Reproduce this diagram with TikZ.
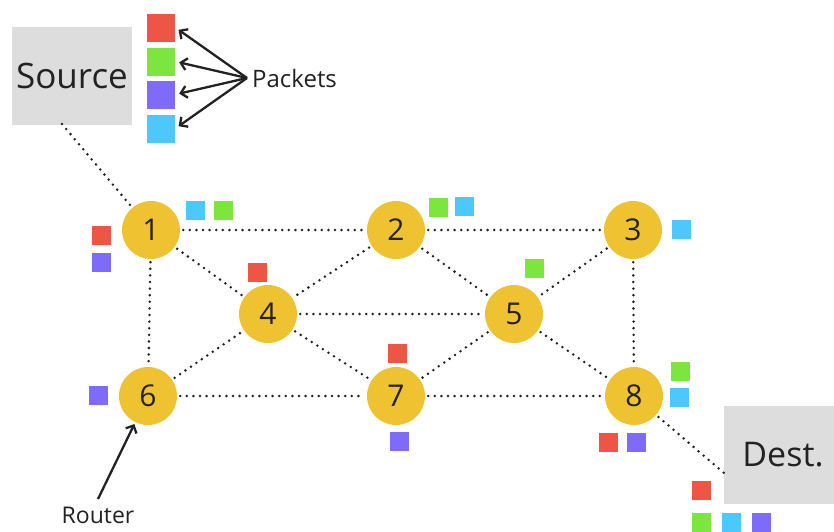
\documentclass[tikz,border=0pt]{standalone}
\usepackage{fontspec}
\setmainfont{Open Sans}
\usetikzlibrary{arrows.meta}
\definecolor{routerfill}{HTML}{EEC230}
\definecolor{boxgray}{HTML}{DDDDDD}
\definecolor{ink}{HTML}{222222}
\definecolor{pkred}{HTML}{EF5545}
\definecolor{pkgreen}{HTML}{7DE63E}
\definecolor{pkpurple}{HTML}{7F6BFA}
\definecolor{pkcyan}{HTML}{4CC8FC}
\tikzset{
  router/.style={circle, fill=routerfill, minimum size=58pt, inner sep=0pt,
    text=ink, font=\fontsize{30}{34}\selectfont},
  hostbox/.style={fill=boxgray, inner sep=0pt, text=ink},
  pkt/.style={draw=white, line width=0.6pt, minimum size=#1, inner sep=0pt},
  pkt/.default=20pt,
  dotline/.style={line width=2.8pt, line cap=round, draw=ink,
    dash pattern=on 0pt off 6.6pt, shorten <=3pt, shorten >=3pt},
  callout/.style={line width=2.3pt, draw=ink,
    -{Straight Barb[length=6pt,width=12pt,line width=2.3pt]}},
  label/.style={text=ink, inner sep=1pt}
}
\begin{document}
\begin{tikzpicture}[x=1pt, y=-1pt]
\useasboundingbox (0,0) rectangle (834,531);

% end hosts (the destination box runs off the right edge)
\node[hostbox, minimum width=120pt, minimum height=98pt,
  font=\fontsize{35}{40}\selectfont] (src) at (72,76) {Source};
\node[hostbox, minimum width=118pt, minimum height=98pt,
  font=\fontsize{34}{40}\selectfont] (dst) at (783,455) {Dest.};

% routers
\node[router] (n1) at (151,230) {1};
\node[router] (n2) at (396,230) {2};
\node[router] (n3) at (633,230) {3};
\node[router] (n4) at (268,314) {4};
\node[router] (n5) at (514,314) {5};
\node[router] (n6) at (148,396) {6};
\node[router] (n7) at (396,396) {7};
\node[router] (n8) at (634,396) {8};

% links
\coordinate (srcfoot) at (62,124);
\coordinate (dstfoot) at (724,473);
\draw[dotline, shorten <=0pt] (srcfoot) -- (n1);
\draw[dotline] (n1) -- (n2);
\draw[dotline] (n2) -- (n3);
\draw[dotline] (n1) -- (n4);
\draw[dotline] (n2) -- (n4);
\draw[dotline] (n2) -- (n5);
\draw[dotline] (n3) -- (n5);
\draw[dotline] (n4) -- (n5);
\draw[dotline] (n4) -- (n7);
\draw[dotline] (n5) -- (n7);
\draw[dotline] (n5) -- (n8);
\draw[dotline] (n3) -- (n8);
\draw[dotline] (n1) -- (n6);
\draw[dotline] (n6) -- (n4);
\draw[dotline] (n6) -- (n7);
\draw[dotline] (n7) -- (n8);
\draw[dotline, shorten >=0pt] (n8) -- (dstfoot);

% packet legend
\node[pkt=29pt, fill=pkred]    (lg1) at (160.5,27.5) {};
\node[pkt=29pt, fill=pkgreen]  (lg2) at (160.5,61.5) {};
\node[pkt=29pt, fill=pkpurple] (lg3) at (160.5,94.5) {};
\node[pkt=29pt, fill=pkcyan]   (lg4) at (160.5,128.5) {};
\node[label, anchor=west, font=\fontsize{24}{28}\selectfont] (pklabel) at (251,78) {Packets};
\coordinate (fan) at (247,78);
\foreach \s in {lg1,lg2,lg3,lg4}
  \draw[callout, shorten >=4pt] (fan) -- (\s.east);

% router callout
\node[label, font=\fontsize{23}{27}\selectfont] (rtlabel) at (98,515) {Router};
\coordinate (rtfoot) at (98,499);
\draw[callout, shorten >=2pt] (rtfoot) -- (n6);

% packets in transit
\node[pkt, fill=pkcyan]   (p1a) at (195,210) {};
\node[pkt, fill=pkgreen]  (p1b) at (223,210) {};
\node[pkt, fill=pkred]    (p1c) at (101,235) {};
\node[pkt, fill=pkpurple] (p1d) at (101,262) {};
\node[pkt, fill=pkred]    (p4a) at (257,272) {};
\node[pkt, fill=pkgreen]  (p2a) at (438,207) {};
\node[pkt, fill=pkcyan]   (p2b) at (464,206) {};
\node[pkt, fill=pkgreen]  (p5a) at (534,268) {};
\node[pkt, fill=pkcyan]   (p3a) at (681,229) {};
\node[pkt, fill=pkred]    (p7a) at (397,353) {};
\node[pkt, fill=pkpurple] (p7b) at (399,441) {};
\node[pkt, fill=pkpurple] (p6a) at (98,395) {};
\node[pkt, fill=pkgreen]  (p8a) at (680,371) {};
\node[pkt, fill=pkcyan]   (p8b) at (679,397) {};
\node[pkt, fill=pkred]    (p8c) at (608,442) {};
\node[pkt, fill=pkpurple] (p8d) at (636,442) {};
\node[pkt, fill=pkred]    (pda) at (701,490) {};
\node[pkt, fill=pkgreen]  (pdb) at (701,522) {};
\node[pkt, fill=pkcyan]   (pdc) at (731,522) {};
\node[pkt, fill=pkpurple] (pdd) at (761,522) {};
\end{tikzpicture}
\end{document}
